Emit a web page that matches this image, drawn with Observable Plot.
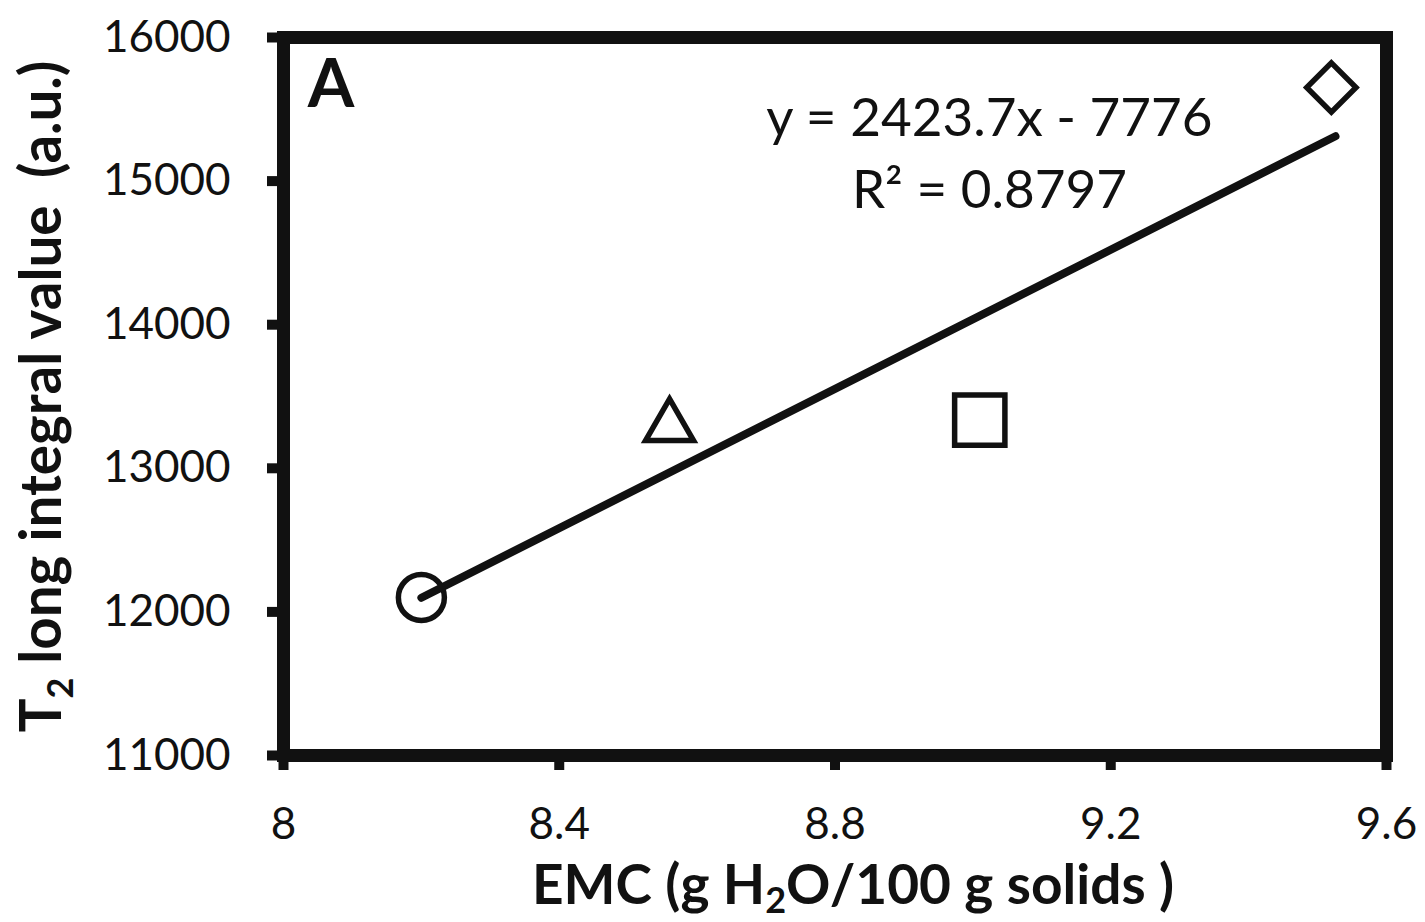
<!DOCTYPE html>
<html>
<head>
<meta charset="utf-8">
<script src="https://cdn.jsdelivr.net/npm/d3@7"></script>
<script src="https://cdn.jsdelivr.net/npm/@observablehq/plot@0.6"></script>
<style>
  html, body { margin: 0; padding: 0; background: #fff; }
  #chart svg text { white-space: pre; }
</style>
</head>
<body>
<div id="chart"></div>
<script>
// ---- data ----
const emc = [8.20, 8.56, 9.01, 9.52];
const t2Long = [12100, 13290, 13335, 15652];
const markerShape = ["circle", "triangle", "square", "diamond"];
const trendEmc = [8.20, 9.526];
const trendSlope = 2423.7;
const trendIntercept = -7776;
const xTicks = [8, 8.4, 8.8, 9.2, 9.6];
const yTicks = [11000, 12000, 13000, 14000, 15000, 16000];
const equationLabels = ["y = 2423.7x - 7776", "R² = 0.8797"];
const equationX = [9.024, 9.024];
const equationY = [15429, 14928];
const panelLabel = ["A"];
const panelX = [8.035];
const panelY = [15665];
const xTitle = "EMC (g H2O/100 g solids )";
const yTitle = "T2 long integral value  (a.u.)";

// ---- build ----
const ink = "#111";
const points = emc.map((x, i) => ({x, y: t2Long[i], shape: markerShape[i]}));
const trend = trendEmc.map(x => ({x, y: trendSlope * x + trendIntercept}));
const dotOpts = (shape, symbol, r) => ({
  filter: d => d.shape === shape, x: "x", y: "y", symbol, r,
  stroke: ink, strokeWidth: 5.5, fill: "none"
});

const plot = Plot.plot({
  width: 1425, height: 922,
  marginLeft: 283, marginRight: 39, marginTop: 37, marginBottom: 167,
  style: {fontFamily: "Lato, sans-serif", background: "#fff", color: ink},
  x: {domain: [8, 9.6]},
  y: {domain: [11000, 16000]},
  marks: [
    Plot.axisX({ticks: xTicks, tickSize: 15, tickPadding: 37, strokeWidth: 10, fontSize: 44,
                tickFormat: d => String(d), label: null, fill: ink}),
    Plot.axisY({ticks: yTicks, tickSize: 16, tickPadding: 37, strokeWidth: 10, fontSize: 44,
                tickFormat: d => String(d), label: null, fill: ink}),
    Plot.line(trend, {x: "x", y: "y", stroke: ink, strokeWidth: 8, strokeLinecap: "round"}),
    Plot.dot(points, dotOpts("circle", "circle", 23)),
    Plot.dot(points, dotOpts("triangle", "triangle2", 22.9)),
    Plot.dot(points, dotOpts("square", "square2", 32)),
    Plot.dot(points, dotOpts("diamond", "diamond2", 22.2)),
    Plot.frame({stroke: ink, strokeWidth: 13}),
    Plot.text(equationLabels, {x: (d, i) => equationX[i], y: (d, i) => equationY[i], text: d => d,
                               fontSize: 53, fill: ink, textAnchor: "middle"}),
    Plot.text(panelLabel, {x: (d, i) => panelX[i], y: (d, i) => panelY[i], text: d => d,
                           fontSize: 67, fontWeight: "bold", fill: ink, textAnchor: "start"}),
    Plot.text([xTitle], {frameAnchor: "bottom", dx: 18, dy: 131, text: d => d,
                         textAnchor: "middle", lineAnchor: "middle",
                         fontSize: 55, fontWeight: "bold", fill: ink}),
    Plot.text([yTitle], {frameAnchor: "left", dx: -241, rotate: -90, text: d => d,
                         textAnchor: "middle", lineAnchor: "middle",
                         fontSize: 56.5, fontWeight: "bold", fill: ink})
  ]
});
document.getElementById("chart").appendChild(plot);

// subscripts in the axis titles
function withSubscript(el, before, sub, after, shift) {
  const t = d3.select(el);
  t.text(null).style("white-space", "pre");
  t.append("tspan").text(before);
  t.append("tspan").attr("font-size", 36).attr("dy", shift).text(sub);
  t.append("tspan").attr("dy", -shift).text(after);
}
d3.select(plot).selectAll("text").each(function () {
  const s = this.textContent;
  if (s === xTitle) withSubscript(this, "EMC (g H", "2", "O/100 g solids )", 9);
  else if (s === yTitle) withSubscript(this, "T", "2", " long integral value  (a.u.)", 12);
});
</script>
</body>
</html>
